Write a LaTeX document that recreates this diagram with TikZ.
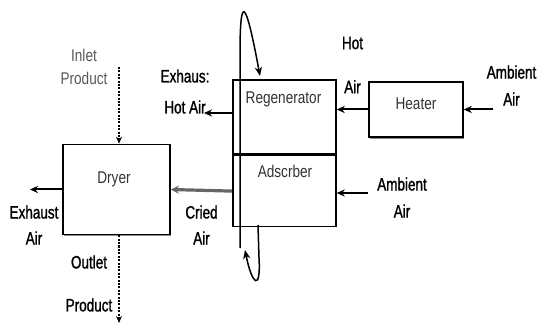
\documentclass[tikz,border=0pt]{standalone}
\usepackage{fontspec}
\setmainfont{Liberation Sans}
\newfontfamily\lblfont[FakeStretch=0.75,FakeBold=1.2]{Liberation Sans}
\newfontfamily\unitfont[FakeStretch=0.8]{Liberation Sans}
\usepackage{tikz}
\usetikzlibrary{arrows.meta, positioning, shadows}
\tikzstyle{unit} = [rectangle, 
draw=black, 
line width=0.8pt, 
inner sep=0pt, 
fill=white]
\tikzstyle{shadowed} = [drop shadow={shadow xshift=0.7pt, shadow yshift=-1pt, fill=black!45, opacity=1}]
\tikzstyle{unittext} = [font=\unitfont\fontsize{8.5}{10}\selectfont, text=black!80, inner sep=0pt]
\tikzstyle{lbl} = [font=\lblfont\fontsize{9}{11}\selectfont, align=center, inner sep=0pt]
\tikzstyle{arrow} = [line width=1pt,-{Stealth[length=4pt, width=3.6pt]}]
\tikzstyle{flow} = [line width=0.8pt, dash pattern=on 1pt off 0.7pt,-{Stealth[length=3.5pt, width=3pt]}]
\tikzstyle{dried} = [line width=1.6pt, draw=black!60,-{Stealth[length=4pt, width=4pt]}]
\tikzstyle{wheel} = [line width=0.75pt,-{Stealth[length=4.5pt, width=3.6pt]}]

\begin{document}
\begin{tikzpicture}[x=0.5pt, y=-0.5pt]
        \useasboundingbox (0,0) rectangle (539,325);

        \node (dryer) [unit, shadowed, minimum width=53.5pt, minimum height=45pt] at (116.5,189.5) {};
        \node (regen) [unit, minimum width=51.5pt, minimum height=37pt] at (284.5,117) {};
        \node (adsorb) [unit, minimum width=51.5pt, minimum height=35.5pt, below=0pt of regen] {};
        \node (heater) [unit, shadowed, minimum width=47pt, minimum height=27.5pt] at (416,109.5) {};

        \node (dryertext) [unittext] at (114,179) {Dryer};
        \node (regentext) [unittext] at (283.5,99) {Regenerator};
        \node (adsorbtext) [unittext] at (285,171.5) {Adscrber};
        \node (heatertext) [unittext] at (416,104) {Heater};
        \node (inlettext) [unittext, align=center, text=black!65] at (84,66.5) {Inlet\\[1.5pt]Product};

        \node (exhottext) [lbl] at (185,91.5) {Exhaus:\\[4.5pt]Hot Air};
        \node (hottext) [lbl] at (352.5,65) {Hot\\[11pt]Air};
        \node (ambheattext) [lbl] at (511.5,85.5) {Ambient\\[2.5pt]Air};
        \node (ambadstext) [lbl] at (402,197.5) {Ambient\\[2.5pt]Air};
        \node (driedtext) [lbl] at (201.5,225) {Cried\\[2pt]Air};
        \node (exairtext) [lbl] at (34,225) {Exhaust\\[2pt]Air};
        \node (outlettext) [lbl] at (89,283.5) {Outlet\\[10.5pt]Product};

        \coordinate (exhot) at (204,113);
        \coordinate (ambheat) at (493,109.5);
        \coordinate (ambads) at (368,193);
        \coordinate (exair) at (30,189.5);
        \coordinate (inlet) at (119,67);
        \coordinate (outlet) at (119,323);
        \coordinate (wheelbot) at (240,248);
        \coordinate (wheelin) at (260,76);
        \coordinate (wheelout) at (258,225);
        \coordinate (wheelret) at (245,250);

        \draw [arrow] (exhot -| regen.west) -- (exhot);
        \draw [arrow] (heater.west) -- (regen.east |- heater.west);
        \draw [arrow] (ambheat) -- (heater.east);
        \draw [arrow] (ambads) -- (ambads -| adsorb.east);
        \draw [dried] (adsorb.west) -- (dryer.east);
        \draw [arrow] (dryer.west) -- (exair);
        \draw [flow] (inlet) -- (inlet |- dryer.north);
        \draw [flow] (outlet |- dryer.south) -- (outlet);

        \draw [wheel] (wheelbot) -- (240,55) .. controls (240,-5) and (245,-5) .. (wheelin);
        \draw [wheel] (wheelout) -- (259,258) .. controls (261,292) and (252,285) .. (wheelret);

    \end{tikzpicture}
\end{document}
